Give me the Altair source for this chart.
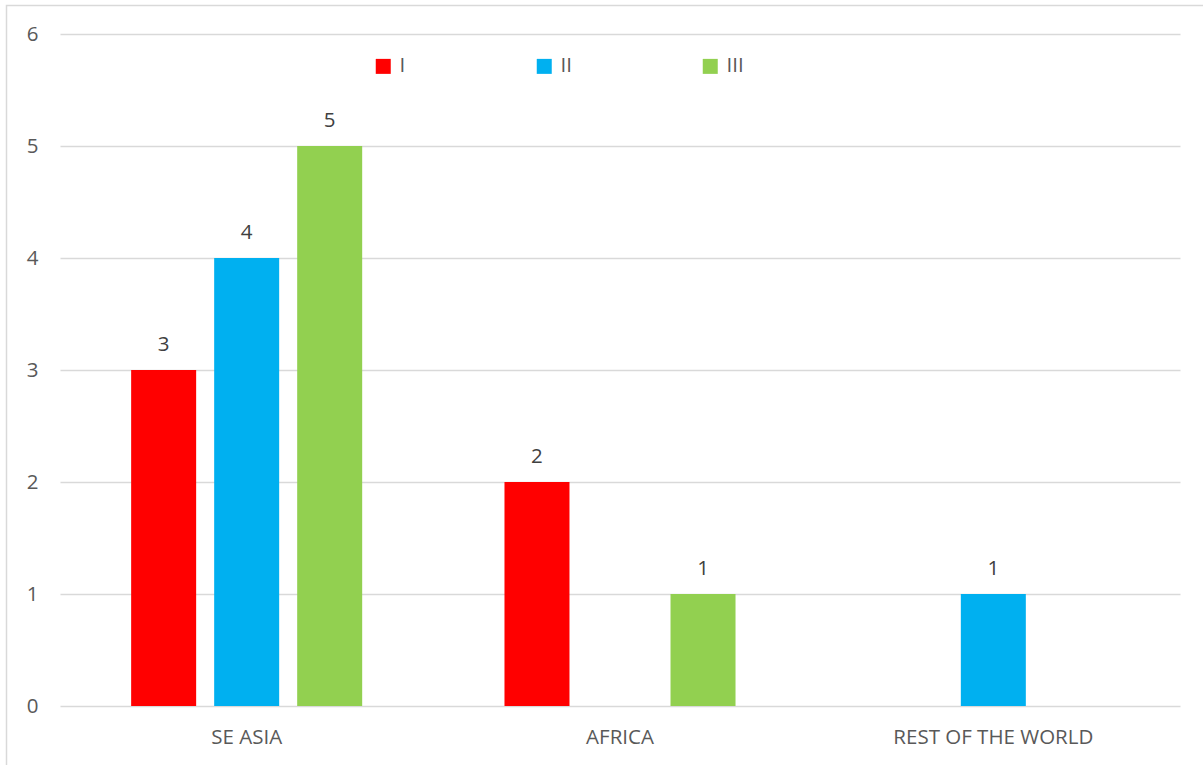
import altair as alt
import pandas as pd

# Counts per region for the three series
regions = ["SE ASIA", "AFRICA", "REST OF THE WORLD"]
series = ["I", "II", "III"]
values_I = [3, 2, 0]
values_II = [4, 0, 1]
values_III = [5, 1, 0]
colors = ["#FF0000", "#00B0F0", "#92D050"]
y_ticks = [0, 1, 2, 3, 4, 5, 6]

rows = []
for s, vals in zip(series, [values_I, values_II, values_III]):
    for r, v in zip(regions, vals):
        rows.append({"region": r, "series": s, "value": v})
df = pd.DataFrame(rows)
df = df[df["value"] > 0]

FONT = "Open Sans"
FS = 20.5
GRAY = "#595959"

x_enc = alt.X(
    "region:N",
    sort=regions,
    scale=alt.Scale(domain=regions, paddingInner=0, paddingOuter=0),
    axis=alt.Axis(
        title=None, labelAngle=0, domain=False, ticks=False, labelLimit=0,
        labelPadding=21, labelFont=FONT, labelFontSize=FS, labelColor=GRAY,
    ),
)
xoff_enc = alt.XOffset(
    "series:N",
    sort=series,
    scale=alt.Scale(domain=series, paddingInner=0.217, paddingOuter=0.857),
)
y_enc = alt.Y(
    "value:Q",
    scale=alt.Scale(domain=[0, 6], nice=False),
    axis=alt.Axis(
        title=None, values=y_ticks, domain=False, ticks=False,
        labelPadding=22, labelFont=FONT, labelFontSize=FS, labelColor=GRAY,
        gridColor="#D9D9D9", gridWidth=1.3,
    ),
)
color_enc = alt.Color(
    "series:N",
    sort=series,
    scale=alt.Scale(domain=series, range=colors),
    legend=alt.Legend(
        title=None, orient="none", legendX=313, legendY=22,
        direction="horizontal", symbolType="square", symbolSize=225,
        symbolStrokeWidth=0, labelFont=FONT, labelFontSize=FS,
        labelColor=GRAY, labelOffset=6, columnPadding=128, padding=0,
    ),
)

bars = alt.Chart(df).mark_bar().encode(
    x=x_enc, xOffset=xoff_enc, y=y_enc, color=color_enc
)

labels = alt.Chart(df).mark_text(
    font=FONT, fontSize=FS, color="#404040", baseline="alphabetic", dy=-19
).encode(x=x_enc, xOffset=xoff_enc, y=y_enc, text=alt.Text("value:Q"))

frame = alt.Chart(pd.DataFrame({"k": [0]})).mark_rect(
    fill=None, stroke="#D9D9D9", strokeWidth=1.5
).encode(
    x=alt.value(-53.5), y=alt.value(-28.5),
    x2=alt.value(1200), y2=alt.value(800),
)

chart = (
    alt.layer(frame, bars, labels)
    .properties(
        width=1120, height=672,
        autosize=alt.AutoSizeParams(type="none"),
        padding={"left": 60, "top": 34, "right": 23, "bottom": 59},
        background="white",
    )
    .configure_view(stroke=None)
)

chart.save("out.html", embed_options={"renderer": "svg", "actions": False})
